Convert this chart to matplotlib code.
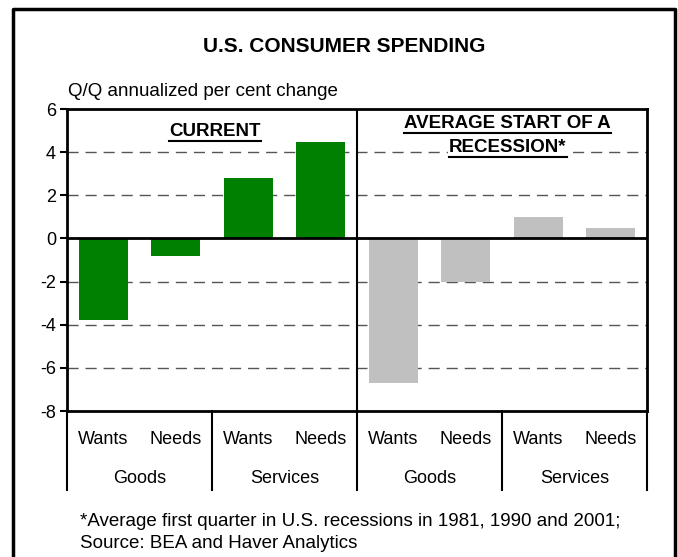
import matplotlib.pyplot as plt
from matplotlib.lines import Line2D

plt.rcParams['font.family'] = ['Liberation Sans', 'DejaVu Sans']
plt.rcParams['axes.unicode_minus'] = False

# data
kinds = ["Wants", "Needs", "Wants", "Needs", "Wants", "Needs", "Wants", "Needs"]
groups = ["Goods", "Services", "Goods", "Services"]
current = [-3.8, -0.8, 2.8, 4.45]
recession = [-6.7, -2.0, 1.0, 0.5]

fig = plt.figure(figsize=(6.78, 5.57), dpi=100)
ax = fig.add_axes([67 / 678, 1 - 411 / 557, 580 / 678, 302 / 557])

x_cur = list(range(4))
x_rec = list(range(4, 8))
ax.bar(x_cur, current, width=0.68, color="#008000", zorder=3)
ax.bar(x_rec, recession, width=0.68, color="#c0c0c0", zorder=3)

ax.set_xlim(-0.5, 7.5)
ax.set_ylim(-8, 6)
ax.set_yticks(range(-8, 7, 2))
ax.tick_params(axis='y', direction='out', length=5, width=1.5, labelsize=13, pad=3)
ax.set_xticks([])

for y in [-6, -4, -2, 2, 4]:
    ax.axhline(y, color="#555555", lw=1, ls=(0, (8, 5)), zorder=1)
ax.axhline(0, color="black", lw=2, zorder=4)
ax.axvline(3.5, color="black", lw=1.5, zorder=4)

for s in ax.spines.values():
    s.set_linewidth(2)

# category labels under axis
tr = ax.get_xaxis_transform()
for i, k in enumerate(kinds):
    ax.text(i, -0.096, k, transform=tr, ha="center", va="center", fontsize=13)
for j, g in enumerate(groups):
    ax.text(2 * j + 0.5, -0.222, g, transform=tr, ha="center", va="center", fontsize=13)
for xs in [-0.5, 1.5, 3.5, 5.5, 7.5]:
    ax.plot([xs, xs], [0, -0.262], transform=tr, color="black", lw=1.5, clip_on=False)

# panel headers
h1 = ax.text(1.54, 4.95, "CURRENT", ha="center", va="center", fontsize=13.5, fontweight="bold", zorder=5)
h2 = ax.text(5.58, 5.33, "AVERAGE START OF A", ha="center", va="center", fontsize=13.5, fontweight="bold", zorder=5)
h3 = ax.text(5.58, 4.23, "RECESSION*", ha="center", va="center", fontsize=13.5, fontweight="bold",
             zorder=5, bbox=dict(facecolor="white", edgecolor="none", pad=1))

fig.canvas.draw()
r = fig.canvas.get_renderer()
for t in [h1, h2, h3]:
    bb = t.get_window_extent(r)
    y0 = bb.y0 - 1
    fig.add_artist(Line2D([bb.x0 / 678, bb.x1 / 678], [y0 / 557, y0 / 557], color="black", lw=1.5))

# titles and notes
fig.text(344 / 678, 1 - 47 / 557, "U.S. CONSUMER SPENDING", ha="center", va="center",
         fontsize=15, fontweight="bold")
fig.text(68 / 678, 1 - 92 / 557, "Q/Q annualized per cent change", ha="left", va="center", fontsize=13.5)
fig.text(80 / 678, 1 - 522 / 557, "*Average first quarter in U.S. recessions in 1981, 1990 and 2001;",
         ha="left", va="center", fontsize=13.5)
fig.text(80 / 678, 1 - 544 / 557, "Source: BEA and Haver Analytics", ha="left", va="center", fontsize=13.5)

# outer frame (open at bottom)
fx0, fx1, fy = 13 / 678, 675 / 678, 1 - 9 / 557
fig.add_artist(Line2D([fx0, fx0, fx1, fx1], [0, fy, fy, 0], color="black", lw=2.5))

fig.savefig("out.png", dpi=100)
